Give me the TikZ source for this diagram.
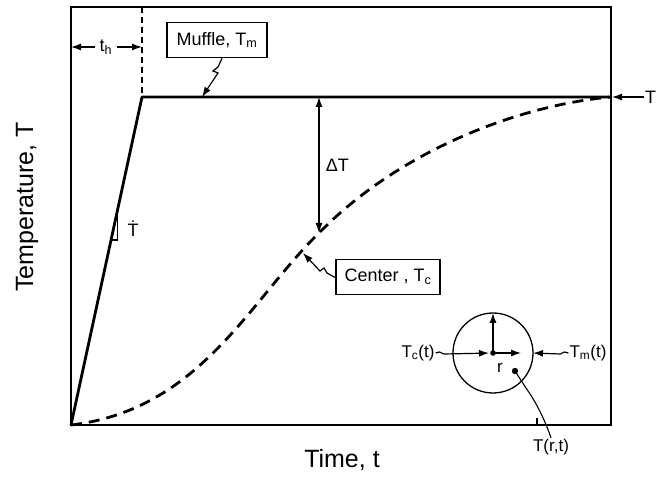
\documentclass[tikz,border=0pt]{standalone}
\usepackage{fontspec}
\setmainfont{Liberation Sans}
\usetikzlibrary{arrows.meta,calc}

\tikzset{
  lbox/.style={draw,line width=1.4pt,minimum height=35pt,minimum width=100pt,inner xsep=6pt,font=\fontsize{18}{20}\selectfont},
  lbl/.style={font=\fontsize{17}{19}\selectfont,inner sep=1pt},
  axlbl/.style={font=\fontsize{25}{30}\selectfont},
  tip/.style={-{Latex[length=10pt,width=7pt]},line width=1.2pt}
}

\begin{document}
\begin{tikzpicture}[x=1pt,y=-1pt]
  \useasboundingbox (0,0) rectangle (659,478);
  % frame and curves
  \draw[line width=1.9pt] (71,7) rectangle (611,425);
  \coordinate (o) at (71,425);
  \coordinate (knee) at (142,97);
  \coordinate (tend) at (611,97);
  \draw[line width=1.4pt,dash pattern=on 6pt off 4pt] (142,7) -- (knee);
  \draw[line width=2.8pt,line join=round] (o) -- (knee) -- (tend);
  \draw[line width=2.8pt,dash pattern=on 11pt off 7pt] (o) .. controls (200,410) and (250,300) .. (319,233)
    .. controls (400,150) and (520,105) .. (tend);
  % heating time
  \node[lbl,font=\fontsize{18}{20}\selectfont,inner sep=5pt] (th) at (106,47) {t\textsubscript{h}};
  \coordinate (thl) at (71,47);
  \coordinate (thr) at (142,47);
  \draw[tip] (th) -- (thl);
  \draw[tip] (th) -- (thr);
  % muffle
  \node[lbox] (muf) at (217,40) {Muffle, T\textsubscript{m}};
  \coordinate (mufpt) at (202,97);
  \draw[tip] ([xshift=5]muf.south) -- (218,67) -- (213,71) -- (218,73) -- (mufpt);
  % slope
  \draw[line width=1.1pt] ($(o)!0.564!(knee)$) -| ($(o)!0.655!(knee)$);
  \node[lbl,font=\fontsize{18}{20}\selectfont] (tdot) at (133,229) {\.{T}};
  % temperature difference
  \coordinate (dtop) at (319,97);
  \coordinate (dbot) at (319,233);
  \draw[{Latex[length=10pt,width=7pt]}-{Latex[length=10pt,width=7pt]},line width=1.2pt] (dtop) -- (dbot)
    node[midway,right=3pt,font=\fontsize{18}{20}\selectfont] {ΔT};
  % center
  \node[lbox,minimum width=104pt] (ctr) at (388,277) {Center , T\textsubscript{c}};
  \coordinate (cpt) at (303,253);
  \draw[tip] (336,278) -- (327,273) -- (324,268) -- (320,271) -- (cpt);
  % final temperature
  \node[lbl,anchor=west,font=\fontsize{18}{20}\selectfont] (tfin) at (644,97) {T};
  \draw[tip,shorten >=1pt] (tfin.west) -- (tend);
  % sphere
  \coordinate (cc) at (493,353);
  \coordinate (ctop) at (493,313);
  \coordinate (crad) at (521,353);
  \coordinate (ce) at (533,353);
  \draw[line width=1.3pt] (cc) circle (40);
  \fill (cc) circle (2.8);
  \draw[tip] (cc) -- (ctop);
  \draw[tip] (cc) -- (crad);
  \node[lbl] (r) at (500,368) {r};
  \node[lbl] (tct) at (418,353) {T\textsubscript{c}(t)};
  \draw[tip,shorten >=4pt] (tct.east) -- ++(4,-1) -- ++(4,2) -- (cc);
  \node[lbl] (tmt) at (588,353) {T\textsubscript{m}(t)};
  \draw[tip] (tmt.west) -- ++(-4,-1) -- ++(-4,2) -- (ce);
  \coordinate (rp) at (515,371);
  \fill (rp) circle (3.2);
  \node[lbl] (trt) at (551,447) {T(r,t)};
  \draw[line width=1.1pt] (rp) -- (526,388) .. controls (536,402) and (545,420) .. (trt.north);
  \draw[line width=1.1pt] (537,418) -- (537,425);
  % axis labels
  \node[axlbl] (xlab) at (342,460) {Time, t};
  \node[axlbl,rotate=90] (ylab) at (27,207) {Temperature, T};
\end{tikzpicture}
\end{document}
